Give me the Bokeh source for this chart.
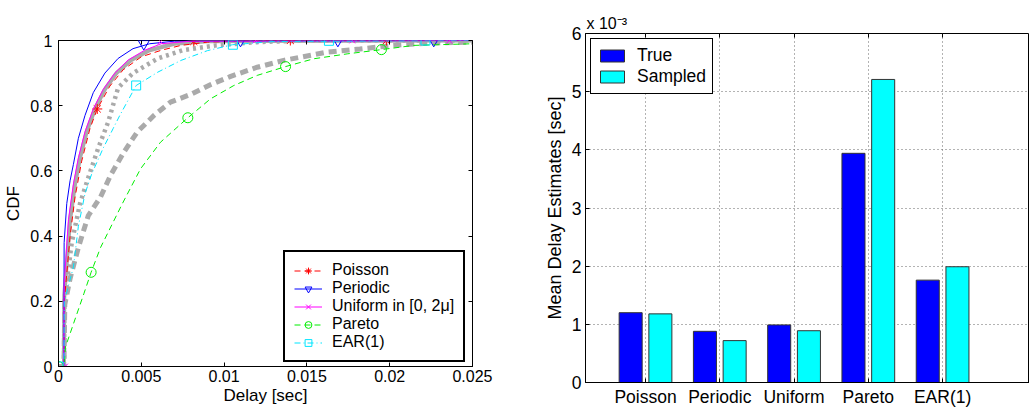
from bokeh.plotting import figure
from bokeh.models import (Range1d, FixedTicker, LinearAxis, Legend, LegendItem,
                          ColumnDataSource, CustomJSTickFormatter)
from bokeh.embed import file_html
from bokeh.resources import INLINE

FONT = "Liberation Sans"

# ---------------- left panel: CDF of delay ----------------
x_ticks = [0, 0.005, 0.01, 0.015, 0.02, 0.025]
y_ticks = [0, 0.2, 0.4, 0.6, 0.8, 1]

# colored (sampled) curves
pois_x = [0, 0.00033, 0.00035, 0.0007, 0.001, 0.0014, 0.0019, 0.00234, 0.0031, 0.0039, 0.005, 0.0062, 0.0074, 0.009, 0.012, 0.025]
pois_y = [0, 0, 0.2, 0.4, 0.52, 0.63, 0.73, 0.79, 0.86, 0.91, 0.95, 0.97, 0.985, 0.995, 1.0, 1.0]
pois_mx = [0.00234, 0.00817, 0.0140, 0.0198]
pois_my = [0.79, 0.997, 1.0, 1.0]

per_x = [0, 0.00032, 0.00034, 0.0005, 0.0007, 0.0009, 0.0012, 0.0016, 0.0021, 0.0028, 0.0036, 0.0045, 0.0055, 0.007, 0.025]
per_y = [0, 0, 0.38, 0.50, 0.57, 0.62, 0.70, 0.77, 0.84, 0.90, 0.945, 0.975, 0.99, 0.998, 1.0]
per_mx = [0.00515, 0.01099, 0.01687, 0.02266]
per_my = [0.99, 1.0, 1.0, 1.0]

uni_x = [0, 0.00032, 0.00034, 0.0006, 0.0009, 0.0012, 0.0016, 0.0021, 0.0027, 0.0034, 0.0042, 0.0052, 0.0062, 0.008, 0.025]
uni_y = [0, 0, 0.25, 0.45, 0.56, 0.64, 0.72, 0.79, 0.85, 0.90, 0.94, 0.97, 0.99, 0.998, 1.0]
uni_mx = [0.0004, 0.00616, 0.0119, 0.01774, 0.0236]
uni_my = [0, 0.997, 1.0, 1.0, 1.0]

par_x = [0, 0.00033, 0.00042, 0.00153, 0.00197, 0.00254, 0.00385, 0.00495, 0.00616, 0.00781, 0.00918, 0.01059, 0.012, 0.01371, 0.01542, 0.01743, 0.0195, 0.02146, 0.025]
par_y = [0, 0, 0.06, 0.223, 0.289, 0.365, 0.499, 0.606, 0.688, 0.763, 0.821, 0.862, 0.893, 0.92, 0.944, 0.959, 0.972, 0.985, 0.99]
par_mx = [0, 0.00197, 0.00781, 0.01371, 0.0195]
par_my = [0, 0.289, 0.763, 0.92, 0.972]

ear_x = [0, 0.00033, 0.00035, 0.0009, 0.0012, 0.0016, 0.002, 0.0027, 0.0033, 0.0037, 0.00469, 0.006, 0.0074, 0.009, 0.0105, 0.013, 0.025]
ear_y = [0, 0, 0.2, 0.305, 0.43, 0.53, 0.59, 0.67, 0.73, 0.77, 0.862, 0.903, 0.939, 0.969, 0.987, 0.997, 1.0]
ear_mx = [0, 0.00469, 0.01053, 0.01633, 0.02216]
ear_my = [0, 0.862, 0.987, 0.999, 1.0]

# gray (true) curves
g1_x = [0, 0.00033, 0.00035, 0.0007, 0.001, 0.0013, 0.0017, 0.0022, 0.0028, 0.0035, 0.0044, 0.0055, 0.007, 0.009, 0.025]
g1_y = [0, 0, 0.22, 0.45, 0.56, 0.64, 0.72, 0.79, 0.85, 0.90, 0.94, 0.97, 0.99, 0.998, 1.0]

g2_x = [0, 0.00033, 0.00036, 0.0008, 0.0013, 0.0018, 0.0024, 0.003, 0.0036, 0.0045, 0.006, 0.0075, 0.0095, 0.012, 0.015, 0.025]
g2_y = [0, 0, 0.2, 0.38, 0.5, 0.58, 0.67, 0.75, 0.855, 0.9, 0.945, 0.97, 0.985, 0.995, 1.0, 1.0]

g3_x = [0, 0.00033, 0.00038, 0.0007, 0.0012, 0.0018, 0.00254, 0.00314, 0.00394, 0.00475, 0.00576, 0.00676, 0.008, 0.0092, 0.0104, 0.012, 0.0136, 0.0162, 0.0182, 0.0202, 0.0223, 0.025]
g3_y = [0, 0, 0.19, 0.27, 0.365, 0.463, 0.52, 0.586, 0.657, 0.719, 0.77, 0.811, 0.835, 0.865, 0.89, 0.918, 0.939, 0.964, 0.974, 0.985, 0.992, 0.995]

legend_labels = ["Poisson", "Periodic", "Uniform in [0, 2\u03bc]", "Pareto", "EAR(1)"]

# ---------------- right panel: mean delay bars ----------------
categories = ["Poisson", "Periodic", "Uniform", "Pareto", "EAR(1)"]
true_mean = [1.20e-3, 0.88e-3, 0.99e-3, 3.94e-3, 1.76e-3]
sampled_mean = [1.18e-3, 0.72e-3, 0.89e-3, 5.21e-3, 1.99e-3]
bar_ticks = [0, 1e-3, 2e-3, 3e-3, 4e-3, 5e-3, 6e-3]
series_names = ["True", "Sampled"]
scale_text = "x 10\u207b\u00b3"


def style_axis(ax, size):
    ax.axis_line_color = "black"
    ax.major_tick_in = 4
    ax.major_tick_out = 0
    ax.minor_tick_line_color = None
    ax.major_tick_line_color = "black"
    ax.major_label_text_font = FONT
    ax.major_label_text_font_size = size
    ax.major_label_text_color = "black"
    ax.axis_label_text_font = FONT
    ax.axis_label_text_font_style = "normal"
    ax.axis_label_text_color = "black"


def blank_axis(ticker):
    ax = LinearAxis(ticker=ticker, formatter=CustomJSTickFormatter(code="return ''"))
    ax.major_tick_in = 4
    ax.major_tick_out = 0
    ax.minor_tick_line_color = None
    ax.axis_line_color = None
    ax.major_label_standoff = 0
    ax.major_label_text_font_size = "1px"
    return ax


p1 = figure(width=512, height=409, x_range=Range1d(0, 0.025), y_range=Range1d(0, 1),
            output_backend="svg", toolbar_location=None,
            min_border_left=58, min_border_right=40, min_border_top=40, min_border_bottom=43)
p1.styles = {"position": "absolute", "left": "0px", "top": "0px"}
p1.outline_line_color = "black"
p1.outline_line_alpha = 1
p1.grid.visible = False
p1.xaxis.ticker = FixedTicker(ticks=x_ticks)
p1.yaxis.ticker = FixedTicker(ticks=y_ticks)
fmt = CustomJSTickFormatter(code="return tick.toString()")
p1.xaxis.formatter = fmt
p1.yaxis.formatter = fmt
for ax in p1.xaxis + p1.yaxis:
    style_axis(ax, "16px")
    ax.axis_label_text_font_size = "17px"
p1.xaxis.axis_label = "Delay [sec]"
p1.yaxis.axis_label = "CDF"
p1.xaxis.major_label_standoff = 3
p1.xaxis.axis_label_standoff = 1
p1.yaxis.major_label_standoff = 6
p1.yaxis.axis_label_standoff = 4
p1.add_layout(blank_axis(FixedTicker(ticks=x_ticks)), "above")
p1.add_layout(blank_axis(FixedTicker(ticks=y_ticks)), "right")

GRAY = "#aaaaaa"
p1.line(g1_x, g1_y, line_color=GRAY, line_width=4)
p1.line(g2_x, g2_y, line_color=GRAY, line_width=4.5, line_dash="3 4")
p1.line(g3_x, g3_y, line_color=GRAY, line_width=5, line_dash="8 5")

series = [
    (pois_x, pois_y, pois_mx, pois_my, "#ff0000", "6 4", "asterisk", 10),
    (per_x, per_y, per_mx, per_my, "#0000ff", "solid", "inverted_triangle", 11),
    (uni_x, uni_y, uni_mx, uni_my, "#ff00ff", "solid", "x", 8),
    (par_x, par_y, par_mx, par_my, "#00ee00", "6 4", "circle", 10),
    (ear_x, ear_y, ear_mx, ear_my, "#00e5ff", "6 3 1 3", "square", 9),
]
items = []
for (xs, ys, mx, my, col, dash, mk, sz), lab in zip(series, legend_labels):
    r_line = p1.line(xs, ys, line_color=col, line_width=1, line_dash=dash)
    r_mk = p1.scatter(mx, my, marker=mk, size=sz, line_color=col, fill_color=None, line_width=1)
    items.append(LegendItem(label=lab, renderers=[r_line, r_mk]))

leg1 = Legend(items=items, location=(225, 4))
leg1.label_text_font = FONT
leg1.label_text_font_size = "16px"
leg1.label_text_color = "black"
leg1.label_height = 17
leg1.glyph_height = 17
leg1.glyph_width = 28
leg1.label_standoff = 10
leg1.spacing = 0
leg1.padding = 9
leg1.margin = 0
leg1.border_line_color = "black"
leg1.border_line_alpha = 1
leg1.border_line_width = 2
leg1.background_fill_color = "white"
leg1.background_fill_alpha = 1
p1.add_layout(leg1, "center")

# ---------------- right figure ----------------
pos = list(range(1, len(categories) + 1))
p2 = figure(width=517, height=409, x_range=Range1d(0.192, 6.17), y_range=Range1d(0, 6e-3),
            output_backend="svg", toolbar_location=None,
            min_border_left=73, min_border_right=0, min_border_top=33, min_border_bottom=25)
p2.styles = {"position": "absolute", "left": "512px", "top": "0px"}
p2.outline_line_color = "black"
p2.outline_line_alpha = 1
p2.title.text = scale_text
p2.title.align = "left"
p2.title.offset = 1
p2.title.standoff = 3
p2.title.text_font = FONT
p2.title.text_font_size = "16px"
p2.title.text_font_style = "normal"
p2.title.text_color = "black"
p2.xaxis.ticker = FixedTicker(ticks=pos)
p2.xaxis.major_label_overrides = {p: c for p, c in zip(pos, categories)}
p2.yaxis.ticker = FixedTicker(ticks=bar_ticks)
p2.yaxis.formatter = CustomJSTickFormatter(code="return Math.round(tick*1000).toString()")
for ax in p2.xaxis + p2.yaxis:
    style_axis(ax, "17.5px")
    ax.axis_label_text_font_size = "18px"
p2.yaxis.axis_label = "Mean Delay Estimates [sec]"
p2.yaxis.major_label_standoff = 4
p2.yaxis.axis_label_standoff = 4
p2.xaxis.major_label_standoff = 4
p2.xgrid.ticker = FixedTicker(ticks=pos)
p2.ygrid.ticker = FixedTicker(ticks=bar_ticks)
p2.grid.grid_line_color = "#666666"
p2.grid.grid_line_dash = "1 3"
p2.grid.grid_line_width = 1
p2.add_layout(blank_axis(FixedTicker(ticks=pos)), "above")

src = ColumnDataSource(dict(
    x_true=[p - 0.2 for p in pos], x_samp=[p + 0.2 for p in pos],
    true=true_mean, sampled=sampled_mean))
b1 = p2.vbar(x="x_true", top="true", width=0.31, bottom=0, source=src,
             fill_color="#0000ff", line_color="#333333", line_width=1)
b2 = p2.vbar(x="x_samp", top="sampled", width=0.31, bottom=0, source=src,
             fill_color="#00ffff", line_color="#333333", line_width=1)

leg2 = Legend(items=[LegendItem(label=series_names[0], renderers=[b1]),
                     LegendItem(label=series_names[1], renderers=[b2])],
              location="top_left")
leg2.label_text_font = FONT
leg2.label_text_font_size = "17.5px"
leg2.label_text_color = "black"
leg2.label_height = 16
leg2.glyph_height = 15
leg2.glyph_width = 30
leg2.label_standoff = 10
leg2.spacing = 0
leg2.padding = 6
leg2.margin = 5
leg2.border_line_color = "black"
leg2.border_line_alpha = 1
leg2.border_line_width = 1.5
leg2.background_fill_color = "white"
leg2.background_fill_alpha = 1
p2.add_layout(leg2, "center")

open("out.html", "w").write(file_html([p1, p2], INLINE))
